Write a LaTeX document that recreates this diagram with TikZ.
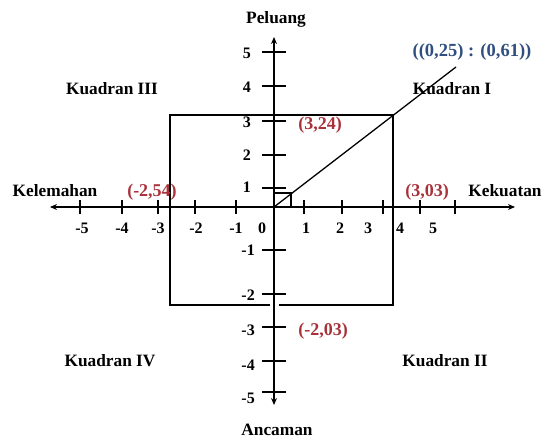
\documentclass[tikz,border=0pt]{standalone}
\usepackage{fontspec}
\setmainfont{Liberation Serif}
\usetikzlibrary{arrows.meta}
\definecolor{redlab}{HTML}{A8323A}
\definecolor{bluelab}{HTML}{2F4F80}
\tikzset{
  axis/.style={line width=1.2pt,{Stealth[length=7pt,width=6pt]}-{Stealth[length=7pt,width=6pt]}},
  tickline/.style={line width=1.1pt},
  frame/.style={line width=1.3pt},
  lab/.style={font=\bfseries\fontsize{17.3}{19}\selectfont,inner sep=0pt},
  num/.style={font=\bfseries\fontsize{16}{18}\selectfont,inner sep=0pt},
  redtxt/.style={font=\bfseries\fontsize{18}{20}\selectfont,text=redlab,inner sep=0pt},
  bluetxt/.style={font=\bfseries\fontsize{18.5}{20}\selectfont,text=bluelab,inner sep=0pt}
}
\begin{document}
\begin{tikzpicture}[x=1pt,y=-1pt]
\useasboundingbox (0,0) rectangle (545,441);
% axes
\coordinate (top) at (274,37);
\coordinate (bot) at (274,405);
\coordinate (left) at (50,207);
\coordinate (right) at (515,207);
\coordinate (O) at (274,207);
\draw[axis] (bot) -- (top);
\draw[axis] (left) -- (right);
% y ticks
\foreach \v/\yy in {5/52,4/86,3/121,2/155,1/188,-1/250,-2/294,-3/327,-4/361,-5/392}{
  \draw[tickline] (262,\yy) -- (286,\yy);
}
\foreach \v/\yy in {5/53,4/87,3/122,2/155,1/187}{
  \node[num,anchor=east] (ylab\v) at (251,\yy) {\v};
}
\foreach \v/\yy in {-1/250,-2/295,-3/330,-4/365,-5/398}{
  \node[num,anchor=east] (ylab\v) at (255,\yy) {\v};
}
% x ticks
\foreach \n/\xx in {m5/80,m4/122,m3/158,m2/195,m1/236,p1/304,p2/342,p3/383,p4/420,p5/455}{
  \draw[tickline] (\xx,200) -- (\xx,214);
}
\foreach \n/\t/\xx in {m5/-5/82,m4/-4/122,m3/-3/158,m2/-2/196,m1/-1/236,z/0/262,p1/1/306,p2/2/340,p3/3/368,p4/4/400,p5/5/433}{
  \node[num] (xlab\n) at (\xx,228) {\t};
}
% rectangle
\coordinate (rtl) at (170,115);
\coordinate (rtr) at (393,115);
\coordinate (rbr) at (393,305);
\coordinate (rbl) at (170,305);
\coordinate (gapl) at (270,305);
\coordinate (gapr) at (279,305);
\draw[frame] (gapl) -- (rbl) -- (rtl) -- (rtr) -- (rbr) -- (gapr);
% diagonal and small box
\coordinate (diagend) at (456,67);
\coordinate (sb) at (291,193);
\draw[frame] (O) -- (diagend);
\draw[tickline] (O |- sb) -- (sb) -- (sb |- O);
% labels
\node[lab] (peluang) at (276,19) {Peluang};
\node[lab] (ancaman) at (277,430) {Ancaman};
\node[lab] (kelemahan) at (55,191) {Kelemahan};
\node[lab] (kekuatan) at (505,191) {Kekuatan};
\node[lab] (k1) at (452,89) {Kuadran I};
\node[lab] (k3) at (112,89) {Kuadran III};
\node[lab] (k4) at (110,361) {Kuadran IV};
\node[lab] (k2) at (445,361) {Kuadran II};
\node[bluetxt] (coord) at (472,52) {((0,25) : (0,61))};
\node[redtxt] (c324) at (320,125) {(3,24)};
\node[redtxt] (c254) at (152,192) {(-2,54)};
\node[redtxt] (c303) at (427,192) {(3,03)};
\node[redtxt] (c203) at (323,331) {(-2,03)};
\end{tikzpicture}
\end{document}
